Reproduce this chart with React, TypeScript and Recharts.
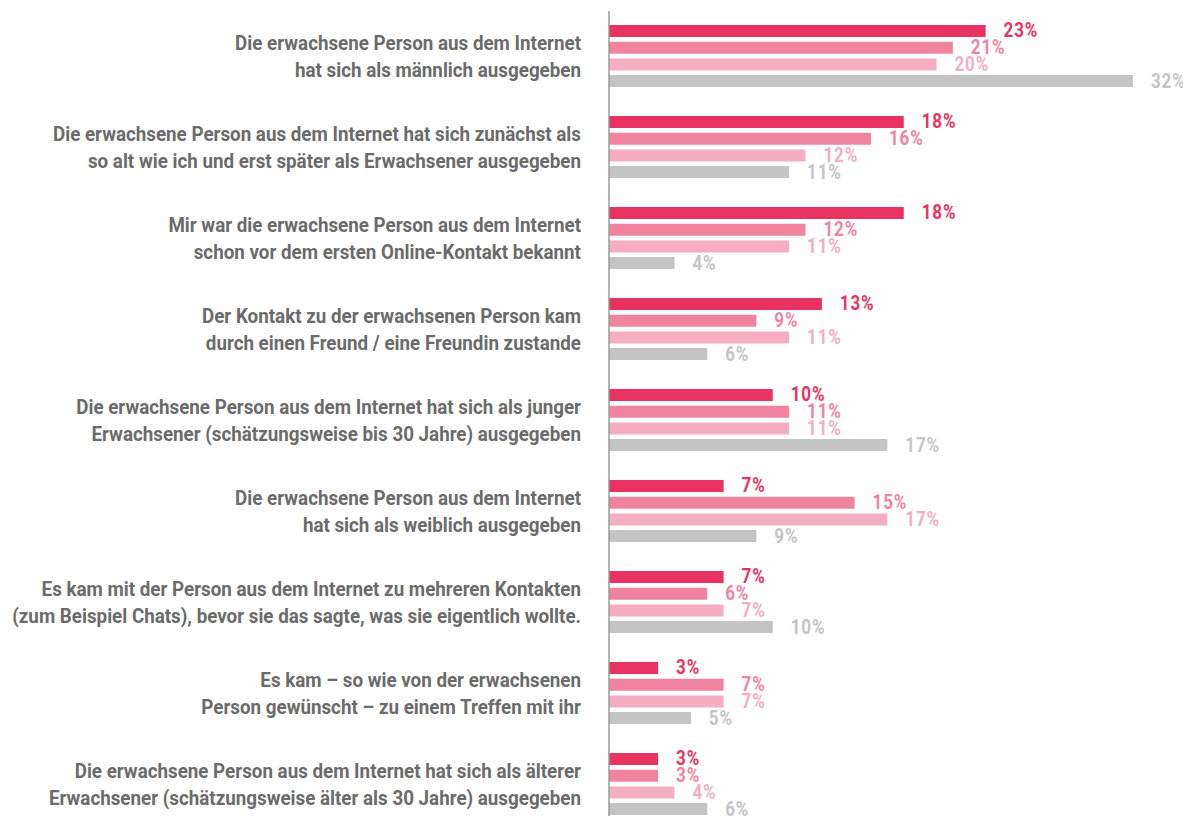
import React from 'react';
import { BarChart, Bar, XAxis, YAxis, LabelList } from 'recharts';

const categories = [
  'Die erwachsene Person aus dem Internet\nhat sich als männlich ausgegeben',
  'Die erwachsene Person aus dem Internet hat sich zunächst als\nso alt wie ich und erst später als Erwachsener ausgegeben',
  'Mir war die erwachsene Person aus dem Internet\nschon vor dem ersten Online-Kontakt bekannt',
  'Der Kontakt zu der erwachsenen Person kam\ndurch einen Freund / eine Freundin zustande',
  'Die erwachsene Person aus dem Internet hat sich als junger\nErwachsener (schätzungsweise bis 30 Jahre) ausgegeben',
  'Die erwachsene Person aus dem Internet\nhat sich als weiblich ausgegeben',
  'Es kam mit der Person aus dem Internet zu mehreren Kontakten\n(zum Beispiel Chats), bevor sie das sagte, was sie eigentlich wollte.',
  'Es kam – so wie von der erwachsenen\nPerson gewünscht – zu einem Treffen mit ihr',
  'Die erwachsene Person aus dem Internet hat sich als älterer\nErwachsener (schätzungsweise älter als 30 Jahre) ausgegeben',
];

const serie1 = [23, 18, 18, 13, 10, 7, 7, 3, 3];
const serie2 = [21, 16, 12, 9, 11, 15, 6, 7, 3];
const serie3 = [20, 12, 11, 11, 11, 17, 7, 7, 4];
const serie4 = [32, 11, 4, 6, 17, 9, 10, 5, 6];

const seriesKeys = ['s1', 's2', 's3', 's4'];
const seriesColors = ['#e83362', '#f0849f', '#f5adc1', '#c4c4c4'];

const data = categories.map((label, i) => ({
  label,
  s1: serie1[i],
  s2: serie2[i],
  s3: serie3[i],
  s4: serie4[i],
}));

const FONT = "Roboto, 'DejaVu Sans Condensed', sans-serif";
const LABEL_SCALE = 0.94;
const VALUE_SCALE = 0.85;

// squeeze text horizontally around its anchor to mimic a condensed face
const squeeze = (x: number, s: number) => `translate(${x},0) scale(${s},1) translate(${-x},0)`;

const CategoryTick = (props: any) => {
  const { x, y, payload } = props;
  const lines: string[] = String(payload.value).split('\n');
  const lineH = 27;
  const start = y - ((lines.length - 1) * lineH) / 2 + 0.5;
  return (
    <text
      x={x}
      y={start}
      textAnchor="end"
      fill="#6b6b6b"
      fontFamily={FONT}
      fontWeight="bold"
      fontSize={20}
      transform={squeeze(x, LABEL_SCALE)}
    >
      {lines.map((line, i) => (
        <tspan key={i} x={x} y={start + i * lineH} dominantBaseline="central">
          {line}
        </tspan>
      ))}
    </text>
  );
};

const makeValueLabel = (color: string) => (props: any) => {
  const { x, y, width, height, value } = props;
  const lx = x + width + 18;
  return (
    <text
      x={lx}
      y={y + height / 2}
      dominantBaseline="central"
      fill={color}
      fontFamily={FONT}
      fontWeight="bold"
      fontSize={20}
      letterSpacing={1}
      transform={squeeze(lx, VALUE_SCALE)}
    >
      {`${value}%`}
    </text>
  );
};

export default function App() {
  return (
    <div style={{ position: 'absolute', left: 0, top: 0, width: 1183, height: 816, overflow: 'hidden', background: '#fff' }}>
      <BarChart
        width={1183}
        height={830}
        data={data}
        layout="vertical"
        margin={{ top: 11, right: 50, bottom: 0, left: 0 }}
        barSize={12}
        barGap={4.7}
      >
        <XAxis type="number" domain={[0, 32]} hide />
        <YAxis
          type="category"
          dataKey="label"
          width={609}
          tickLine={false}
          tickSize={0}
          tickMargin={28}
          axisLine={{ stroke: '#9a9a9a', strokeWidth: 1.5 }}
          tick={<CategoryTick />}
          interval={0}
        />
        {seriesKeys.map((k, i) => (
          <Bar key={k} dataKey={k} fill={seriesColors[i]} isAnimationActive={false}>
            <LabelList dataKey={k} content={makeValueLabel(seriesColors[i])} />
          </Bar>
        ))}
      </BarChart>
    </div>
  );
}
